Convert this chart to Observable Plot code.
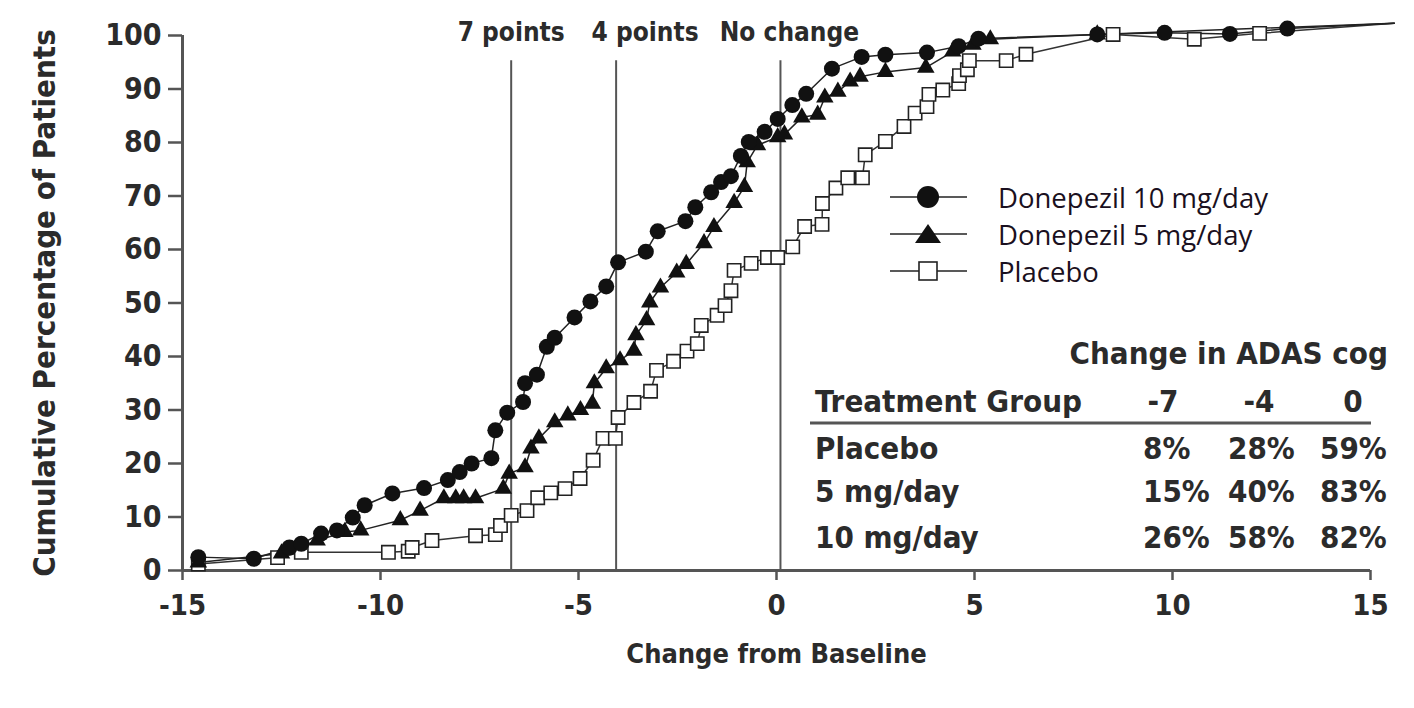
<!DOCTYPE html>
<html>
<head>
<meta charset="utf-8">
<script src="https://cdn.jsdelivr.net/npm/d3@7"></script>
<script src="https://cdn.jsdelivr.net/npm/@observablehq/plot@0.6"></script>
<style>
  body { margin: 0; background: #fff; }
  #wrap { position: relative; width: 1414px; height: 708px; overflow: hidden; background: #fff; }
  #wrap > svg { position: absolute; left: 0; top: 0; }
</style>
</head>
<body>
<div id="wrap"></div>
<script>
// ---------- data ----------
const xTicks = [-15, -10, -5, 0, 5, 10, 15];
const yTicks = [0, 10, 20, 30, 40, 50, 60, 70, 80, 90, 100];
const xTitle = "Change from Baseline";
const yTitle = "Cumulative Percentage of Patients";

const refX = [-6.7, -4.05, 0.1];
const refLabels = ["7 points", "4 points", "No change"];
const refTop = 95.3;

const seriesNames = ["Donepezil 10 mg/day", "Donepezil 5 mg/day", "Placebo"];

const d10X = [-14.6, -13.2, -12.3, -12.0, -11.5, -11.1, -10.7, -10.4, -9.7, -8.9, -8.3, -8.0, -7.7, -7.2, -7.1, -6.8, -6.4, -6.35, -6.05, -5.8, -5.6, -5.1, -4.7, -4.3, -4.0, -3.3, -3.0, -2.3, -2.05, -1.65, -1.4, -1.15, -0.9, -0.7, -0.3, 0.03, 0.4, 0.75, 1.4, 2.15, 2.75, 3.8, 4.6, 5.1, 8.1, 9.8, 11.45, 12.9];
const d10Y = [2.5, 2.2, 4.3, 5.0, 6.9, 7.5, 9.9, 12.2, 14.4, 15.4, 16.9, 18.4, 20.0, 21.0, 26.2, 29.5, 31.5, 35.0, 36.6, 41.8, 43.5, 47.3, 50.3, 53.1, 57.6, 59.6, 63.4, 65.3, 67.9, 70.7, 72.6, 73.7, 77.5, 80.1, 82.0, 84.4, 87.0, 89.1, 93.8, 96.0, 96.4, 96.8, 98.0, 99.4, 100.2, 100.5, 100.3, 101.3];

const d5X = [-14.6, -12.5, -11.6, -10.9, -10.5, -9.5, -9.0, -8.4, -8.1, -7.9, -7.6, -6.9, -6.75, -6.35, -6.2, -6.0, -5.6, -5.27, -4.95, -4.65, -4.6, -4.3, -3.95, -3.6, -3.55, -3.28, -3.2, -2.93, -2.52, -2.28, -1.83, -1.58, -1.07, -0.81, -0.74, -0.48, 0.03, 0.2, 0.64, 1.04, 1.22, 1.55, 1.86, 2.11, 2.75, 3.77, 4.45, 4.96, 5.4, 8.1];
const d5Y = [1.5, 3.2, 5.6, 7.2, 7.5, 9.4, 11.2, 13.5, 13.5, 13.5, 13.5, 15.3, 18.1, 19.3, 22.8, 24.7, 27.7, 29.0, 30.0, 31.2, 35.0, 37.8, 39.3, 41.1, 44.0, 46.8, 50.1, 52.9, 55.7, 57.3, 61.2, 64.2, 68.7, 71.7, 76.3, 79.5, 81.0, 81.5, 84.7, 85.2, 88.4, 89.5, 91.4, 92.3, 93.2, 94.0, 97.0, 98.3, 99.3, 100.2];

const plX = [-14.6, -12.6, -12.0, -9.8, -9.3, -9.2, -8.7, -7.6, -7.1, -6.97, -6.7, -6.3, -6.03, -5.7, -5.34, -4.96, -4.63, -4.38, -4.07, -4.0, -3.6, -3.18, -3.03, -2.6, -2.26, -2.0, -1.9, -1.5, -1.3, -1.15, -1.07, -0.64, -0.23, 0.03, 0.41, 0.71, 1.15, 1.16, 1.5, 1.8, 2.17, 2.24, 2.75, 3.22, 3.5, 3.8, 3.85, 4.2, 4.6, 4.62, 4.82, 4.87, 5.8, 6.3, 8.5, 10.55, 12.2];
const plY = [1.2, 2.4, 3.4, 3.4, 3.6, 4.3, 5.6, 6.5, 6.7, 8.4, 10.3, 11.2, 13.6, 14.5, 15.3, 17.2, 20.6, 24.7, 24.7, 28.6, 31.4, 33.5, 37.4, 39.1, 41.0, 42.4, 45.8, 47.7, 49.5, 52.3, 56.1, 57.4, 58.5, 58.5, 60.5, 64.3, 64.7, 68.6, 71.5, 73.4, 73.4, 77.7, 80.2, 83.0, 85.5, 86.7, 89.0, 89.8, 91.0, 92.5, 93.6, 95.3, 95.3, 96.5, 100.2, 99.3, 100.4];

const endX = 15.6;
const endY = 102.3;

// table
const tableTitle = "Change in ADAS cog";
const tableHead = "Treatment Group";
const tableCols = ["-7", "-4", "0"];
const tableGroups = ["Placebo", "5 mg/day", "10 mg/day"];
const tableVals = [[8, 28, 59], [15, 40, 83], [26, 58, 82]];

// ---------- build ----------
const toPts = (xs, ys) => xs.map((x, i) => ({x, y: ys[i]}));
const p10 = toPts(d10X, d10Y), p5 = toPts(d5X, d5Y), pPl = toPts(plX, plY);
const withEnd = pts => [...pts, {x: endX, y: endY}];

const COND = '"DejaVu Sans Condensed", "DejaVu Sans", sans-serif';
const INK = "#2b2b2b";
const AX = "#555";
const labelDx = [0, 29, 9];

const chart = Plot.plot({
  width: 1414,
  height: 708,
  marginLeft: 182,
  marginRight: 44,
  marginTop: 35,
  marginBottom: 138,
  x: {domain: [-15, 15]},
  y: {domain: [0, 100]},
  style: {fontFamily: COND, color: INK, background: "transparent", fontStretch: "condensed"},
  marks: [
    Plot.ruleX(refX, {x: d => d, y1: 0, y2: refTop, stroke: AX, strokeWidth: 2}),
    ...refLabels.map((lab, i) =>
      Plot.text([lab], {x: () => refX[i], text: d => d, frameAnchor: "top", dx: labelDx[i], dy: -13, fontSize: 26, fontWeight: "bold", fill: INK})),
    Plot.ruleX([-15], {stroke: AX, strokeWidth: 3}),
    Plot.ruleY([0], {stroke: AX, strokeWidth: 3}),
    Plot.axisY({ticks: yTicks, tickFormat: d => String(d), tickSize: 14, tickPadding: 7, fontSize: 30, fontWeight: "bold", label: null, stroke: AX, strokeWidth: 2.5}),
    Plot.axisX({ticks: xTicks, tickFormat: d => String(d), tickSize: 10, tickPadding: 14, fontSize: 29, fontWeight: "bold", label: null, stroke: AX, strokeWidth: 2.5}),
    Plot.text([yTitle], {frameAnchor: "left", dx: -137, rotate: -90, textAnchor: "middle", fontSize: 31, fontWeight: "bold", fill: INK}),
    Plot.text([xTitle], {frameAnchor: "bottom", dy: 92, fontSize: 27, fontWeight: "bold", fill: INK}),
    Plot.line(withEnd(pPl), {x: "x", y: "y", stroke: "#333", strokeWidth: 1.5}),
    Plot.line(withEnd(p5), {x: "x", y: "y", stroke: "#222", strokeWidth: 1.5}),
    Plot.line(withEnd(p10), {x: "x", y: "y", stroke: "#222", strokeWidth: 1.5}),
    Plot.dot(pPl, {x: "x", y: "y", symbol: "square", r: 7.5, fill: "white", stroke: "#222", strokeWidth: 1.6}),
    Plot.dot(p5, {x: "x", y: "y", symbol: "triangle", r: 6.5, fill: "#111"}),
    Plot.dot(p10, {x: "x", y: "y", symbol: "circle", r: 8, fill: "#111"})
  ]
});
const wrap = document.getElementById("wrap");
wrap.appendChild(chart);

// ---------- overlay: legend + table ----------
const ov = d3.select(wrap).append("svg")
  .attr("width", 1414).attr("height", 708)
  .style("position", "absolute").style("left", "0px").style("top", "0px");

const legRows = [197, 234, 271];
const legSym = ["circle", "triangle", "square"];
seriesNames.forEach((name, i) => {
  const g = ov.append("g");
  g.append("line").attr("x1", 890).attr("x2", 967).attr("y1", legRows[i]).attr("y2", legRows[i])
    .attr("stroke", "#222").attr("stroke-width", 1.6);
  if (legSym[i] === "circle") {
    g.append("circle").attr("cx", 928).attr("cy", legRows[i]).attr("r", 11).attr("fill", "#111");
  } else if (legSym[i] === "triangle") {
    g.append("path").attr("d", `M${928},${legRows[i] - 10} L${941},${legRows[i] + 9} L${915},${legRows[i] + 9} Z`).attr("fill", "#111");
  } else {
    g.append("rect").attr("x", 919).attr("y", legRows[i] - 9).attr("width", 18).attr("height", 18)
      .attr("fill", "white").attr("stroke", "#222").attr("stroke-width", 1.6);
  }
  g.append("text").attr("x", 998).attr("y", legRows[i]).attr("dominant-baseline", "central")
    .attr("font-family", '"Open Sans", "Lato", sans-serif').attr("font-size", 27.5).attr("fill", "#1a1020")
    .text(name);
});

const tcell = (x, y, t, anchor) => ov.append("text").attr("x", x).attr("y", y)
  .attr("dominant-baseline", "central").attr("text-anchor", anchor || "start")
  .attr("font-family", COND).attr("font-stretch", "condensed").attr("font-weight", "bold")
  .attr("font-size", 31).attr("fill", INK).text(t);

tcell(1388, 353, tableTitle, "end");
tcell(815, 401, tableHead);
const colCenters = [1163, 1259, 1353];
const colLefts = [1143, 1228, 1320];
tableCols.forEach((c, j) => tcell(colCenters[j], 401, c, "middle"));
ov.append("line").attr("x1", 810).attr("x2", 1371).attr("y1", 423).attr("y2", 423)
  .attr("stroke", AX).attr("stroke-width", 3);
const rowYs = [448, 491, 537];
tableGroups.forEach((g, i) => {
  tcell(815, rowYs[i], g);
  tableVals[i].forEach((v, j) => tcell(colLefts[j], rowYs[i], v + "%"));
});
</script>
</body>
</html>
